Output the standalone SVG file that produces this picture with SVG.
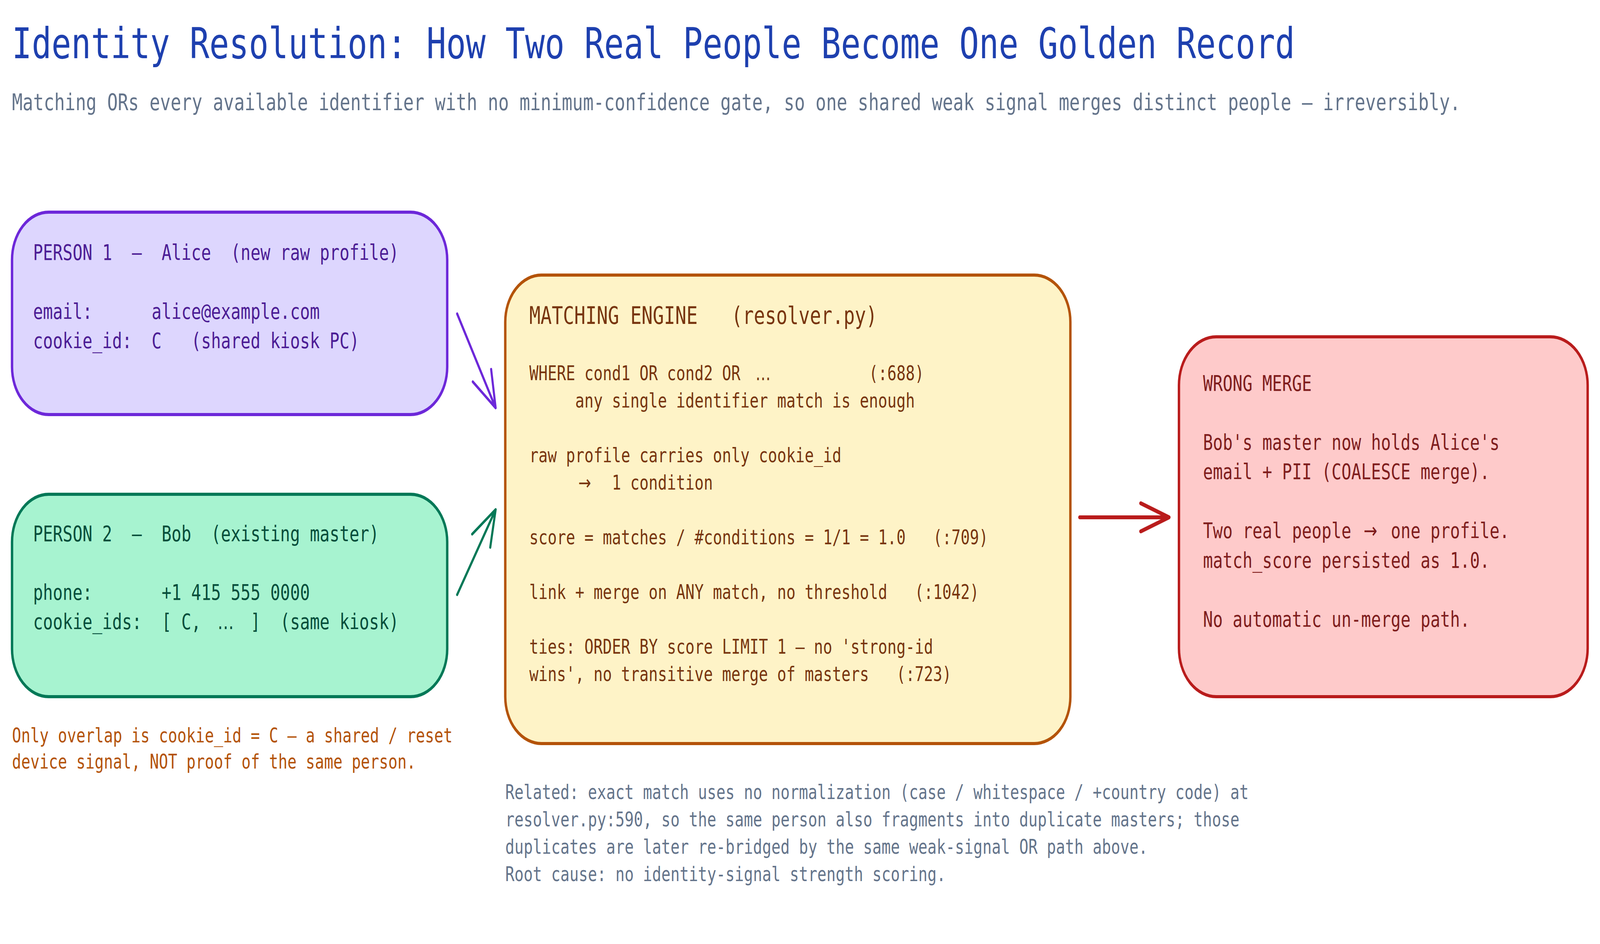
<svg xmlns="http://www.w3.org/2000/svg" width="5320" height="2416" viewBox="0 0 5320 2416" preserveAspectRatio="none" xml:space="preserve">
<style>
svg:root { width: 100vw; height: 100vh; }
text { white-space: pre; font-family: 'DejaVu Sans Mono', 'Liberation Mono', monospace; }
.wide { font-family: 'DejaVu Sans', 'Noto Sans', sans-serif; }
.title { font-size: 109px; fill: #1e40af; }
.sub { font-size: 58.4px; fill: #64748b; }
.box { stroke-width: 8; }
.p1 { font-size: 54.6px; fill: #4c1d95; }
.p2 { font-size: 54.6px; fill: #064e3b; }
.engh { font-size: 62px; fill: #78350f; }
.eng { font-size: 50.7px; fill: #78350f; }
.wm { font-size: 54.6px; fill: #7f1d1d; }
.note { font-size: 50.7px; fill: #b45309; }
.rel { font-size: 50.7px; fill: #64748b; }
.arrow { fill: none; stroke-linecap: round; stroke-linejoin: round; }
</style>
<rect width="5320" height="2416" fill="#ffffff"/>

<g id="title">
<text class="title" x="40" y="149">Identity Resolution: How Two Real People Become One Golden Record</text>
<text class="sub" x="40" y="282">Matching ORs every available identifier with no minimum-confidence gate, so one shared weak signal merges distinct people – irreversibly.</text>
</g>

<g id="person1">
<rect class="box" x="40" y="543" width="1447" height="518" rx="122" ry="122" fill="#ddd6fe" stroke="#6d28d9"/>
<text class="p1" x="110" y="665">PERSON 1  –  Alice  (new raw profile)</text>
<text class="p1" x="110" y="816">email:      alice@example.com</text>
<text class="p1" x="110" y="891">cookie_id:  C   (shared kiosk PC)</text>
</g>

<g id="person2">
<rect class="box" x="40" y="1265" width="1447" height="518" rx="122" ry="122" fill="#a7f3d0" stroke="#047857"/>
<text class="p2" x="110" y="1385">PERSON 2  –  Bob  (existing master)</text>
<text class="p2" x="110" y="1535">phone:       +1 415 555 0000</text>
<text class="p2" x="110" y="1610">cookie_ids:  [ C, <tspan class="wide" x="723">…</tspan><tspan x="767.4">  ]  (same kiosk)</tspan></text>
</g>

<g id="note">
<text class="note" x="40" y="1900">Only overlap is cookie_id = C – a shared / reset</text>
<text class="note" x="40" y="1967">device signal, NOT proof of the same person.</text>
</g>

<g id="engine">
<rect class="box" x="1680" y="704" width="1879" height="1199" rx="120" ry="120" fill="#fef3c7" stroke="#b45309"/>
<text class="engh" x="1760" y="829">MATCHING ENGINE   (resolver.py)</text>
<text class="eng" x="1760" y="973">WHERE cond1 OR cond2 OR <tspan class="wide" x="2512">…</tspan><tspan x="2889.2">(:688)</tspan></text>
<text class="eng" x="1760" y="1043">     any single identifier match is enough</text>
<text class="eng" x="1760" y="1183">raw profile carries only cookie_id</text>
<text class="eng" x="1760" y="1253">     <tspan class="wide" x="1923">→</tspan><tspan x="2034.7">1 condition</tspan></text>
<text class="eng" x="1760" y="1393">score = matches / #conditions = 1/1 = 1.0   (:709)</text>
<text class="eng" x="1760" y="1533">link + merge on ANY match, no threshold   (:1042)</text>
<text class="eng" x="1760" y="1673">ties: ORDER BY score LIMIT 1 – no 'strong-id</text>
<text class="eng" x="1760" y="1743">wins', no transitive merge of masters   (:723)</text>
</g>

<g id="wrong-merge">
<rect class="box" x="3920" y="862" width="1359" height="921" rx="124" ry="124" fill="#fecaca" stroke="#b91c1c"/>
<text class="wm" x="4000" y="1000">WRONG MERGE</text>
<text class="wm" x="4000" y="1151">Bob's master now holds Alice's</text>
<text class="wm" x="4000" y="1226.5">email + PII (COALESCE merge).</text>
<text class="wm" x="4000" y="1377.5">Two real people <tspan class="wide" x="4534">→</tspan><tspan x="4624.5">one profile.</tspan></text>
<text class="wm" x="4000" y="1453">match_score persisted as 1.0.</text>
<text class="wm" x="4000" y="1604">No automatic un-merge path.</text>
</g>

<g id="related">
<text class="rel" x="1680" y="2045">Related: exact match uses no normalization (case / whitespace / +country code) at</text>
<text class="rel" x="1680" y="2115">resolver.py:590, so the same person also fragments into duplicate masters; those</text>
<text class="rel" x="1680" y="2185">duplicates are later re-bridged by the same weak-signal OR path above.</text>
<text class="rel" x="1680" y="2255">Root cause: no identity-signal strength scoring.</text>
</g>

<g id="connectors">
<path class="arrow" d="M1520 803 L1648 1044 M1633 945 L1648 1044 L1572 977" stroke="#6d28d9" stroke-width="7"/>
<path class="arrow" d="M1520 1522 L1648 1304 M1630 1401 L1648 1304 L1570 1367" stroke="#047857" stroke-width="7"/>
<path class="arrow" d="M3590 1324 L3887 1324 M3793 1288 L3887 1324 L3793 1360" stroke="#b91c1c" stroke-width="10"/>
</g>
</svg>
